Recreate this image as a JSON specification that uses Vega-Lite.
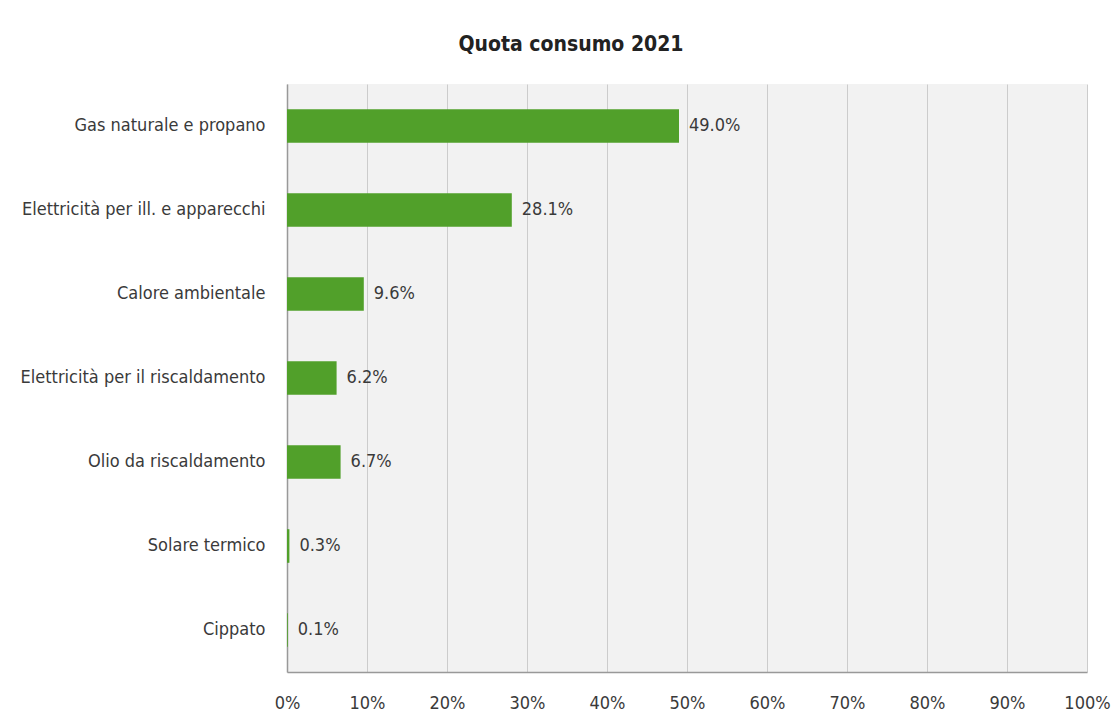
{
  "$schema": "https://vega.github.io/schema/vega-lite/v6.json",
  "width": 800,
  "height": 588,
  "autosize": {"type": "none"},
  "padding": {"left": 287, "top": 84, "right": 32, "bottom": 52},
  "background": "#ffffff",
  "title": {
    "text": "Quota consumo 2021",
    "font": "DejaVu Sans Condensed",
    "fontSize": 21,
    "fontWeight": "bold",
    "color": "#222222",
    "anchor": "middle",
    "dx": -116,
    "offset": 29
  },
  "config": {
    "view": {"fill": "#f2f2f2", "stroke": null},
    "font": "DejaVu Sans Condensed"
  },
  "data": {
    "values": [
      {"categoria": "Gas naturale e propano", "quota": 0.490},
      {"categoria": "Elettricità per ill. e apparecchi", "quota": 0.281},
      {"categoria": "Calore ambientale", "quota": 0.096},
      {"categoria": "Elettricità per il riscaldamento", "quota": 0.062},
      {"categoria": "Olio da riscaldamento", "quota": 0.067},
      {"categoria": "Solare termico", "quota": 0.003},
      {"categoria": "Cippato", "quota": 0.001}
    ]
  },
  "encoding": {
    "y": {
      "field": "categoria",
      "type": "nominal",
      "sort": null,
      "scale": {"paddingInner": 0.6, "paddingOuter": 0.3},
      "axis": {
        "title": null,
        "ticks": false,
        "labelPadding": 22,
        "labelFontSize": 18,
        "labelColor": "#3a3a3a",
        "labelFont": "DejaVu Sans Condensed",
        "domainColor": "#999999",
        "domainWidth": 1.5,
        "grid": false,
        "labelLimit": 400
      }
    },
    "x": {
      "field": "quota",
      "type": "quantitative",
      "scale": {"domain": [0, 1], "nice": false},
      "axis": {
        "title": null,
        "format": ".0%",
        "values": [0, 0.1, 0.2, 0.3, 0.4, 0.5, 0.6, 0.7, 0.8, 0.9, 1],
        "ticks": false,
        "labelFlush": false,
        "labelPadding": 22,
        "labelFontSize": 18,
        "labelColor": "#3a3a3a",
        "labelFont": "DejaVu Sans Condensed",
        "domainColor": "#999999",
        "domainWidth": 1.5,
        "grid": true,
        "gridColor": "#cccccc",
        "gridWidth": 1
      }
    }
  },
  "layer": [
    {"mark": {"type": "bar", "color": "#51a02a"}},
    {
      "mark": {"type": "text", "align": "left", "baseline": "middle", "dx": 10, "fontSize": 18, "color": "#3a3a3a", "font": "DejaVu Sans Condensed"},
      "encoding": {"text": {"field": "quota", "type": "quantitative", "format": ".1%"}}
    }
  ]
}
